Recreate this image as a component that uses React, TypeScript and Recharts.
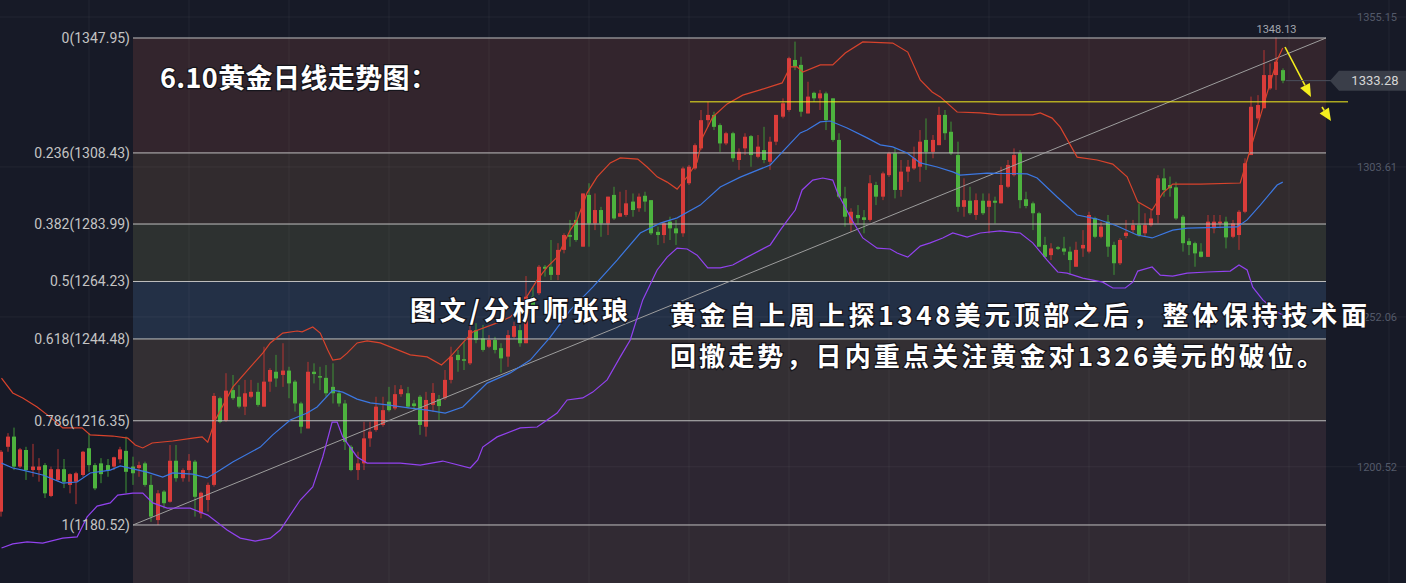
import React from 'react';
import {
  ComposedChart,
  XAxis,
  YAxis,
  Bar,
  Line,
  ReferenceArea,
  ReferenceLine,
  ReferenceDot,
} from 'recharts';

const W = 1406;
const H = 583;

// daily gold candles, oldest first (price in USD)
const opens = [
  1185.1, 1207.4, 1210.9, 1200.6, 1206.3, 1199.4, 1199.4, 1201.1, 1190.5, 1196.0,
  1199.7, 1194.3, 1195.4, 1197.7, 1206.9, 1201.1, 1201.7, 1201.1, 1200.6, 1203.1,
  1206.0, 1200.6, 1200.1, 1201.7, 1194.3, 1182.2, 1192.0, 1188.5, 1202.6, 1196.6,
  1199.4, 1202.3, 1184.5, 1189.1, 1194.3, 1224.1, 1216.4, 1226.9, 1224.6, 1221.2,
  1224.6, 1226.3, 1221.2, 1229.8, 1233.2, 1232.1, 1233.6, 1229.8, 1222.3, 1213.7,
  1233.2, 1231.7, 1231.1, 1228.0, 1225.8, 1222.3, 1207.4, 1199.4, 1201.7, 1210.3,
  1213.2, 1214.9, 1222.9, 1220.6, 1225.5, 1225.8, 1222.3, 1224.6, 1214.3, 1221.8,
  1223.8, 1224.1, 1230.4, 1239.0, 1237.5, 1236.1, 1247.5, 1244.7, 1241.8, 1244.1,
  1241.3, 1238.4, 1245.2, 1247.5, 1243.0, 1259.0, 1260.2, 1269.3, 1269.3, 1266.5,
  1275.1, 1280.2, 1285.4, 1276.2, 1294.0, 1284.2, 1288.8, 1284.2, 1294.0, 1286.5,
  1287.1, 1291.7, 1289.4, 1293.7, 1292.2, 1281.3, 1280.2, 1284.8, 1282.5, 1280.8,
  1298.0, 1303.1, 1310.0, 1319.7, 1321.5, 1318.0, 1311.7, 1315.2, 1306.0, 1310.0,
  1314.2, 1307.1, 1309.4, 1305.4, 1312.3, 1320.9, 1323.2, 1340.4, 1338.7, 1322.0,
  1329.1, 1327.2, 1328.9, 1327.2, 1312.9, 1292.8, 1284.2, 1287.1, 1286.3, 1285.4,
  1297.4, 1293.4, 1300.8, 1308.3, 1295.7, 1302.0, 1303.1, 1303.7, 1312.9, 1308.8,
  1311.1, 1321.5, 1315.7, 1307.7, 1289.9, 1292.0, 1287.1, 1292.0, 1289.9, 1292.0,
  1291.1, 1296.8, 1300.8, 1308.3, 1292.5, 1291.1, 1287.7, 1276.8, 1273.3, 1276.0,
  1275.6, 1274.5, 1269.3, 1275.6, 1274.5, 1286.0, 1279.6, 1284.8, 1276.8, 1270.5,
  1279.9, 1281.9, 1283.6, 1280.8, 1283.6, 1287.1, 1299.7, 1297.4, 1296.6, 1286.5,
  1278.1, 1277.4, 1274.5, 1272.7, 1282.5, 1284.2, 1284.8, 1279.6, 1280.2, 1288.2,
  1307.7, 1320.3, 1323.8, 1330.6, 1335.2, 1336.9,
];

const closes = [
  1205.7, 1210.9, 1200.6, 1206.5, 1199.4, 1200.6, 1200.6, 1191.4, 1199.7, 1199.7,
  1195.4, 1198.0, 1198.3, 1205.7, 1201.1, 1193.1, 1198.0, 1199.4, 1203.8, 1206.5,
  1198.8, 1198.3, 1201.1, 1194.3, 1183.4, 1191.4, 1188.0, 1202.6, 1196.6, 1199.4,
  1202.6, 1190.2, 1191.6, 1194.3, 1224.9, 1216.0, 1226.7, 1224.1, 1221.2, 1225.8,
  1226.3, 1221.8, 1229.8, 1233.8, 1230.9, 1233.6, 1229.2, 1222.3, 1214.3, 1233.2,
  1232.4, 1231.3, 1225.8, 1225.8, 1222.3, 1209.1, 1199.4, 1201.7, 1210.3, 1212.6,
  1221.2, 1220.0, 1220.0, 1225.5, 1227.2, 1221.2, 1221.4, 1214.9, 1223.5, 1225.9,
  1221.4, 1230.4, 1238.4, 1237.2, 1237.0, 1247.5, 1244.1, 1240.7, 1244.1, 1240.7,
  1237.8, 1245.8, 1248.9, 1243.0, 1259.0, 1255.6, 1269.3, 1268.6, 1266.5, 1275.1,
  1280.2, 1279.6, 1278.5, 1294.5, 1284.2, 1288.8, 1284.2, 1293.4, 1285.9, 1287.7,
  1291.1, 1288.8, 1293.4, 1291.7, 1280.8, 1280.2, 1284.2, 1282.5, 1280.8, 1303.1,
  1303.7, 1311.1, 1319.7, 1321.5, 1317.4, 1311.7, 1315.2, 1306.6, 1308.8, 1314.0,
  1307.7, 1310.6, 1306.0, 1312.3, 1321.5, 1325.5, 1341.0, 1338.1, 1322.6, 1327.8,
  1327.2, 1328.9, 1319.7, 1312.9, 1293.4, 1286.5, 1288.2, 1286.0, 1285.4, 1298.0,
  1293.4, 1301.4, 1308.3, 1295.7, 1302.0, 1303.7, 1306.6, 1312.3, 1308.8, 1312.9,
  1321.5, 1315.2, 1308.3, 1289.9, 1292.2, 1287.7, 1292.2, 1287.7, 1292.0, 1291.3,
  1297.4, 1304.3, 1307.7, 1292.2, 1290.2, 1287.7, 1276.2, 1272.7, 1275.6, 1275.5,
  1274.5, 1271.6, 1275.1, 1276.8, 1287.1, 1279.6, 1283.1, 1276.2, 1270.5, 1278.5,
  1281.0, 1283.6, 1280.2, 1283.6, 1285.9, 1299.7, 1295.7, 1296.3, 1285.9, 1277.4,
  1276.8, 1273.9, 1272.7, 1284.8, 1284.8, 1284.8, 1279.4, 1284.2, 1288.2, 1304.9,
  1324.3, 1324.9, 1335.2, 1335.2, 1339.8, 1333.28,
];

const highs = [
  1206.3, 1212.1, 1214.0, 1207.0, 1207.4, 1208.4, 1203.5, 1201.8, 1200.6, 1206.6,
  1203.2, 1198.3, 1198.8, 1206.0, 1212.0, 1201.8, 1203.5, 1203.2, 1204.0, 1207.4,
  1210.9, 1204.0, 1202.3, 1202.3, 1197.7, 1192.5, 1192.5, 1208.0, 1208.0, 1200.0,
  1204.9, 1202.9, 1192.0, 1195.1, 1225.9, 1224.6, 1232.7, 1232.1, 1228.6, 1230.4,
  1230.4, 1229.4, 1241.8, 1234.4, 1239.0, 1243.0, 1234.9, 1230.4, 1222.9, 1236.6,
  1236.1, 1234.9, 1235.5, 1236.1, 1226.9, 1223.5, 1208.0, 1205.7, 1216.0, 1216.0,
  1224.6, 1224.6, 1228.0, 1228.6, 1228.6, 1228.0, 1223.5, 1225.2, 1226.3, 1229.3,
  1225.2, 1233.8, 1241.8, 1240.7, 1243.5, 1249.9, 1249.9, 1249.3, 1245.8, 1245.2,
  1243.0, 1247.5, 1250.4, 1249.3, 1266.1, 1262.4, 1269.9, 1269.9, 1278.5, 1277.4,
  1280.8, 1285.4, 1288.2, 1294.5, 1298.0, 1294.5, 1289.9, 1293.4, 1296.8, 1295.1,
  1295.7, 1294.5, 1294.5, 1295.1, 1292.2, 1283.1, 1284.8, 1286.5, 1285.4, 1303.7,
  1304.3, 1311.7, 1323.2, 1326.0, 1322.6, 1318.6, 1315.7, 1315.7, 1310.0, 1315.2,
  1314.6, 1314.6, 1317.4, 1314.0, 1321.5, 1327.2, 1341.5, 1346.7, 1341.5, 1332.9,
  1329.5, 1330.1, 1329.5, 1327.2, 1315.2, 1296.8, 1289.4, 1290.5, 1288.8, 1300.8,
  1298.5, 1302.0, 1308.8, 1310.0, 1306.0, 1306.0, 1310.6, 1316.3, 1320.3, 1314.6,
  1324.3, 1323.2, 1319.2, 1312.3, 1299.7, 1296.8, 1294.5, 1294.5, 1294.5, 1293.4,
  1303.7, 1306.0, 1310.0, 1309.4, 1295.1, 1291.7, 1288.2, 1279.6, 1277.4, 1276.4,
  1279.6, 1276.2, 1277.9, 1281.9, 1288.2, 1286.5, 1284.8, 1287.1, 1277.9, 1279.1,
  1285.4, 1285.4, 1291.1, 1287.7, 1288.8, 1300.8, 1303.1, 1300.3, 1298.5, 1287.1,
  1279.1, 1277.9, 1277.4, 1287.1, 1287.1, 1287.1, 1286.5, 1285.4, 1288.8, 1306.6,
  1327.8, 1328.3, 1343.8, 1339.2, 1348.13, 1337.5,
];

const lows = [
  1183.4, 1205.7, 1199.4, 1200.1, 1196.0, 1197.1, 1195.4, 1189.8, 1190.1, 1195.4,
  1193.2, 1191.4, 1187.7, 1197.1, 1198.8, 1192.5, 1194.9, 1197.1, 1199.4, 1201.7,
  1191.4, 1194.3, 1197.1, 1193.7, 1181.6, 1180.5, 1186.2, 1188.2, 1195.4, 1195.4,
  1195.4, 1183.4, 1182.8, 1185.1, 1193.7, 1215.5, 1216.0, 1223.5, 1220.6, 1218.3,
  1224.1, 1221.2, 1221.2, 1226.3, 1228.0, 1228.0, 1224.1, 1219.5, 1212.0, 1213.7,
  1229.2, 1226.9, 1224.6, 1222.3, 1221.2, 1206.3, 1199.0, 1196.0, 1199.4, 1207.4,
  1212.6, 1214.3, 1219.5, 1220.0, 1224.6, 1220.6, 1220.0, 1211.5, 1210.9, 1219.4,
  1216.6, 1223.5, 1229.2, 1233.2, 1233.8, 1235.5, 1243.0, 1240.1, 1241.3, 1239.5,
  1232.9, 1234.9, 1244.7, 1241.8, 1243.0, 1255.6, 1259.6, 1265.9, 1264.7, 1264.7,
  1273.9, 1276.2, 1277.9, 1276.2, 1276.2, 1281.9, 1279.6, 1280.2, 1285.4, 1286.5,
  1286.5, 1286.5, 1288.2, 1288.2, 1280.2, 1276.8, 1277.4, 1278.5, 1276.8, 1279.6,
  1297.4, 1302.6, 1309.4, 1317.4, 1316.3, 1308.8, 1311.1, 1305.4, 1302.6, 1307.7,
  1303.7, 1306.6, 1304.9, 1302.6, 1311.1, 1320.3, 1322.6, 1336.9, 1320.9, 1322.0,
  1326.0, 1323.2, 1316.3, 1312.3, 1292.8, 1283.1, 1281.3, 1284.2, 1280.8, 1284.8,
  1290.5, 1292.2, 1300.2, 1292.8, 1293.4, 1298.5, 1302.6, 1298.5, 1302.6, 1306.6,
  1311.1, 1312.9, 1307.7, 1288.2, 1286.5, 1287.1, 1285.4, 1287.1, 1280.8, 1284.2,
  1291.1, 1296.3, 1300.3, 1289.4, 1289.4, 1281.9, 1276.2, 1272.2, 1271.6, 1275.1,
  1273.3, 1266.5, 1269.3, 1272.7, 1273.9, 1279.1, 1279.1, 1272.7, 1266.5, 1269.9,
  1279.1, 1280.8, 1279.6, 1279.6, 1283.1, 1284.2, 1293.4, 1293.4, 1285.4, 1274.5,
  1273.3, 1269.3, 1272.5, 1272.7, 1280.8, 1282.5, 1275.6, 1279.1, 1275.1, 1287.7,
  1307.7, 1319.7, 1323.8, 1330.1, 1330.1, 1332.4,
];

// bollinger bands, read as [candle index, price]
const upperBand: [number, number][] = [
  [0, 1231.0], [1.8, 1225.9], [3.4, 1224.2], [5.7, 1221.1], [7.8, 1217.6], [9.8, 1213.9],
  [12.9, 1213.9], [14.2, 1211.5], [17.8, 1211.1], [20.2, 1210.4], [21.4, 1208.0], [22.6, 1207.0],
  [24.1, 1208.7], [27.4, 1209.4], [30.6, 1210.4], [32.1, 1210.8], [33.0, 1209.0], [34.2, 1216.6],
  [37.0, 1227.9], [39.8, 1234.8], [41.8, 1239.6], [43.0, 1243.1], [45.0, 1246.5], [47.3, 1247.2],
  [48.1, 1246.9], [49.8, 1248.6], [51.0, 1246.5], [52.2, 1240.7], [53.0, 1237.2], [54.2, 1237.6],
  [55.3, 1239.6], [56.9, 1243.1], [58.5, 1243.8], [60.6, 1243.1], [62.6, 1241.4], [65.4, 1239.0],
  [68.1, 1238.3], [70.4, 1235.5], [71.8, 1238.3], [73.8, 1243.1], [75.4, 1246.9], [79.3, 1250.0],
  [81.4, 1252.0], [83.4, 1256.8], [85.7, 1264.7], [87.3, 1269.2], [88.9, 1272.6], [91.0, 1281.9],
  [92.1, 1285.4], [93.7, 1294.7], [95.3, 1300.2], [97.4, 1305.0], [99.0, 1306.7], [101.8, 1306.3],
  [103.3, 1303.6], [104.9, 1300.2], [106.5, 1298.4], [108.1, 1296.0], [109.7, 1300.2], [111.3, 1305.3],
  [112.2, 1313.9], [113.8, 1320.8], [116.1, 1325.3], [118.6, 1328.3], [121.4, 1330.1], [124.9, 1332.5],
  [126.2, 1338.0], [127.3, 1338.0], [128.2, 1336.2], [131.0, 1338.7], [133.0, 1338.7], [135.0, 1342.8],
  [137.8, 1346.6], [142.6, 1346.2], [145.0, 1343.1], [147.0, 1333.5], [148.9, 1329.4], [150.2, 1327.7],
  [152.9, 1322.5], [156.6, 1322.2], [159.8, 1321.5], [165.0, 1321.5], [166.2, 1322.2], [168.1, 1320.4],
  [169.4, 1317.3], [171.0, 1311.2], [172.1, 1307.0], [175.3, 1306.0], [177.8, 1304.6], [180.1, 1300.2],
  [181.8, 1291.6], [184.1, 1288.8], [185.8, 1294.6], [187.4, 1297.7], [191.8, 1297.7], [198.2, 1298.1],
  [199.3, 1306.0], [200.9, 1317.3], [202.5, 1329.0], [204.1, 1340.4], [205.0, 1344.5],
];

const midBand: [number, number][] = [
  [0, 1201.8], [1.8, 1200.1], [3.4, 1199.4], [6.6, 1197.7], [9.8, 1194.9], [12.1, 1195.3],
  [14.2, 1198.4], [17.4, 1199.4], [19.0, 1200.8], [21.0, 1199.8], [23.3, 1198.7], [25.8, 1197.0],
  [27.4, 1198.4], [30.6, 1198.0], [32.9, 1196.7], [35.0, 1199.4], [37.0, 1202.2], [41.4, 1207.3],
  [43.4, 1211.5], [46.2, 1216.6], [48.9, 1219.0], [50.5, 1221.1], [53.0, 1226.9], [54.6, 1226.2],
  [56.9, 1223.8], [59.0, 1222.5], [61.7, 1221.8], [65.4, 1220.7], [68.1, 1220.0], [71.0, 1219.0],
  [73.8, 1221.1], [77.7, 1229.3], [81.4, 1232.8], [84.6, 1237.2], [87.8, 1245.1], [91.0, 1254.4],
  [94.6, 1262.3], [98.5, 1271.6], [102.2, 1280.9], [105.4, 1284.3], [108.1, 1286.1], [111.8, 1290.5],
  [115.0, 1296.7], [118.2, 1300.1], [123.0, 1304.3], [125.7, 1310.5], [127.8, 1315.3], [128.9, 1316.3],
  [131.0, 1319.1], [132.6, 1319.4], [135.3, 1317.0], [138.5, 1313.6], [140.6, 1311.2], [142.6, 1310.5],
  [144.9, 1308.4], [147.0, 1305.0], [149.7, 1303.6], [152.2, 1301.9], [153.4, 1300.8], [157.7, 1301.5],
  [164.1, 1301.2], [165.7, 1299.8], [168.9, 1293.3], [172.1, 1287.1], [175.3, 1285.7], [178.5, 1283.3],
  [181.7, 1280.2], [184.1, 1279.2], [187.4, 1281.9], [189.7, 1282.6], [197.7, 1283.0], [199.3, 1285.4],
  [201.4, 1290.5], [204.1, 1297.4], [205.0, 1298.4],
];

const lowerBand: [number, number][] = [
  [0, 1172.6], [1.8, 1174.0], [4.1, 1174.7], [6.6, 1174.3], [9.8, 1176.0], [12.1, 1176.4],
  [13.7, 1183.3], [15.3, 1187.0], [17.4, 1188.1], [18.6, 1190.8], [21.0, 1191.5], [22.6, 1191.5],
  [24.2, 1188.1], [26.5, 1186.3], [30.2, 1186.3], [33.0, 1183.9], [36.1, 1178.8], [38.2, 1176.0],
  [40.6, 1175.0], [43.0, 1176.0], [44.6, 1178.8], [47.8, 1189.1], [49.8, 1193.6], [51.4, 1203.9],
  [52.9, 1215.9], [53.7, 1215.9], [54.6, 1210.8], [56.9, 1203.9], [58.5, 1201.8], [63.8, 1201.8],
  [67.0, 1201.1], [70.6, 1202.5], [75.0, 1200.1], [76.2, 1202.9], [77.0, 1207.3], [79.3, 1210.8],
  [83.0, 1213.9], [85.7, 1214.2], [87.3, 1216.6], [88.9, 1219.0], [90.5, 1223.5], [93.0, 1224.2],
  [94.6, 1226.2], [96.9, 1230.4], [99.0, 1238.3], [100.6, 1244.1], [102.6, 1257.9], [104.9, 1268.2],
  [106.5, 1272.6], [108.1, 1275.7], [109.7, 1275.4], [111.3, 1273.3], [113.0, 1268.9], [115.0, 1268.9],
  [117.0, 1269.9], [119.3, 1272.6], [123.0, 1276.8], [124.6, 1281.9], [125.8, 1285.4], [127.0, 1288.8],
  [128.1, 1295.7], [129.8, 1299.1], [131.4, 1299.8], [133.0, 1299.1], [133.8, 1294.6], [135.8, 1286.4],
  [137.8, 1279.2], [140.1, 1275.7], [142.2, 1275.4], [143.3, 1274.0], [145.0, 1272.6], [147.0, 1276.4],
  [148.6, 1277.5], [150.6, 1279.2], [152.2, 1280.9], [154.5, 1279.5], [156.6, 1280.9], [159.8, 1281.6],
  [163.0, 1280.9], [165.0, 1277.5], [167.3, 1271.6], [169.0, 1267.5], [170.5, 1267.1], [173.0, 1265.4],
  [176.2, 1264.0], [177.8, 1262.0], [179.8, 1262.0], [181.0, 1264.0], [181.8, 1267.8], [184.1, 1269.2],
  [185.4, 1266.4], [187.4, 1266.1], [189.7, 1267.1], [192.9, 1267.5], [196.6, 1267.8], [198.0, 1269.9],
  [199.3, 1268.2], [200.2, 1262.3], [201.8, 1257.9], [204.1, 1253.7], [205.0, 1252.7],
];

// fibonacci retracement tool
const fibRatios = ['0', '0.236', '0.382', '0.5', '0.618', '0.786', '1'];
const fibPrices = [1347.95, 1308.43, 1283.99, 1264.23, 1244.48, 1216.35, 1180.52];
const fibFills = ['#33252d', '#312b2e', '#2d3130', '#233046', '#332f33', '#2d2632'];
const fibFrom = 21.04;
const fibTo = 211.92;

const priceTicks = [1355.15, 1303.61, 1252.06, 1200.52];
const timeGrid = [14, 30, 46, 62, 78, 94, 110, 126, 142, 158, 174, 190, 206, 222];

const supportPrice = 1326;
const supportFrom = 110.16;
const supportTo = 215.44;
const lastPrice = 1333.28;
const topPrice = 1348.13;
const arrowBig = [{ x: 205.36, y: 1344.85 }, { x: 209.52, y: 1327.66 }];
const arrowSmall = [{ x: 211.28, y: 1324.22 }, { x: 212.72, y: 1319.41 }];

const X_DOMAIN = [-0.24, 224.72];
const Y_DOMAIN = [1160.57, 1361.01];

const candles = opens.map((o, i) => ({
  i,
  open: o,
  close: closes[i],
  high: highs[i],
  low: lows[i],
  range: [lows[i], highs[i]],
}));

const pts = (arr: [number, number][]) => arr.map(([i, v]) => ({ i, v }));

const LABEL_FONT = 'Roboto, "Noto Sans", sans-serif';
const CJK_FONT = '"Noto Sans CJK SC", "Noto Sans", sans-serif';
const YELLOW = '#f4ee1e';

function Candle(props: any) {
  const { x, y, width, height, payload } = props;
  if (!payload || x == null || y == null) return null;
  const { open, close, high, low } = payload;
  const top = Math.min(y, y + height);
  const h = Math.abs(height);
  const k = high > low ? h / (high - low) : 0;
  const py = (v: number) => top + (high - v) * k;
  const up = close >= open;
  const left = Math.round(x + width / 2 - 2);
  const bTop = py(Math.max(open, close));
  const bBot = py(Math.min(open, close));
  return (
    <g>
      <rect x={left + 1.5} y={top} width={1} height={h} fill={up ? '#b53533' : '#3f9436'} />
      <rect
        x={left}
        y={bTop}
        width={4}
        height={Math.max(1.5, bBot - bTop)}
        fill={up ? '#d93c3a' : '#4db33e'}
      />
    </g>
  );
}

function Arrow(p: any) {
  const { x1, y1, x2, y2 } = p;
  const dx = x2 - x1;
  const dy = y2 - y1;
  const len = Math.hypot(dx, dy) || 1;
  const ux = dx / len;
  const uy = dy / len;
  const hl = Math.min(13, len * 0.75);
  const hw = 5.5;
  const bx = x2 - ux * hl;
  const by = y2 - uy * hl;
  const head = `${x2},${y2} ${bx - uy * hw},${by + ux * hw} ${bx + uy * hw},${by - ux * hw}`;
  return (
    <g>
      <line x1={x1} y1={y1} x2={bx} y2={by} stroke={YELLOW} strokeWidth={1.6} />
      <polygon points={head} fill={YELLOW} />
    </g>
  );
}

function PriceTag(p: any) {
  const { cx, cy } = p;
  return (
    <g>
      <line x1={cx + 3} y1={cy} x2={1331} y2={cy} stroke="#4b505c" strokeWidth={1} />
      <polygon
        points={`1330,${cy} 1339,${cy - 10} ${W},${cy - 10} ${W},${cy + 10} 1339,${cy + 10}`}
        fill="#3a3e49"
      />
      <text
        x={1375}
        y={cy}
        textAnchor="middle"
        dominantBaseline="central"
        fill="#d6d6d6"
        fontSize={13}
        fontFamily={LABEL_FONT}
      >
        {lastPrice.toFixed(2)}
      </text>
    </g>
  );
}

export default function App() {
  return (
    <div
      style={{
        position: 'absolute',
        left: 0,
        top: 0,
        width: W,
        height: H,
        background: '#171a27',
        overflow: 'hidden',
      }}
    >
      <ComposedChart width={W} height={H} data={candles} margin={{ top: 0, right: 0, bottom: 0, left: 0 }}>
        <XAxis dataKey="i" type="number" domain={X_DOMAIN} allowDataOverflow hide />
        <YAxis type="number" domain={Y_DOMAIN} allowDataOverflow hide />

        {/* fib zones */}
        {fibFills.map((fill, k) => (
          <ReferenceArea
            key={`z${k}`}
            x1={fibFrom}
            x2={fibTo}
            y1={fibPrices[k + 1]}
            y2={fibPrices[k]}
            fill={fill}
            fillOpacity={1}
            stroke="none"
          />
        ))}
        <ReferenceArea x1={fibFrom} x2={fibTo} y1={Y_DOMAIN[0]} y2={fibPrices[6]} fill="#312a33" fillOpacity={1} stroke="none" />

        {/* grid */}
        {timeGrid.map((g) => (
          <ReferenceLine key={`gx${g}`} x={g} stroke="rgba(255,255,255,0.05)" strokeWidth={1} />
        ))}
        {priceTicks.map((t) => (
          <ReferenceLine
            key={`gy${t}`}
            y={t}
            stroke="rgba(255,255,255,0.05)"
            strokeWidth={1}
            label={{
              value: t.toFixed(2),
              position: 'insideRight',
              offset: 9,
              fill: '#535969',
              fontSize: 11,
              fontFamily: LABEL_FONT,
            }}
          />
        ))}

        {/* fib levels */}
        {fibPrices.map((p) => (
          <ReferenceLine
            key={`f${p}`}
            segment={[{ x: fibFrom, y: p }, { x: fibTo, y: p }]}
            stroke="#bfbfbf"
            strokeWidth={1}
          />
        ))}
        {fibPrices.map((p, k) => (
          <ReferenceDot
            key={`fl${p}`}
            x={fibFrom}
            y={p}
            r={0}
            shape={(d: any) => (
              <text
                x={d.cx - 3}
                y={d.cy}
                textAnchor="end"
                dominantBaseline="central"
                fill="#c4c4c4"
                fontSize={14}
                fontFamily={LABEL_FONT}
              >
                {`${fibRatios[k]}(${p.toFixed(2)})`}
              </text>
            )}
          />
        ))}
        <ReferenceLine
          segment={[{ x: fibFrom, y: fibPrices[6] }, { x: fibTo, y: fibPrices[0] }]}
          stroke="#9d9d9d"
          strokeWidth={1}
        />

        <Bar dataKey="range" barSize={4} shape={Candle} isAnimationActive={false} />

        <Line data={pts(upperBand)} dataKey="v" type="linear" stroke="#d8432c" strokeWidth={1.2} dot={false} activeDot={false} isAnimationActive={false} />
        <Line data={pts(midBand)} dataKey="v" type="linear" stroke="#3c78e2" strokeWidth={1.2} dot={false} activeDot={false} isAnimationActive={false} />
        <Line data={pts(lowerBand)} dataKey="v" type="linear" stroke="#9242ef" strokeWidth={1.2} dot={false} activeDot={false} isAnimationActive={false} />

        <ReferenceLine
          segment={[{ x: supportFrom, y: supportPrice }, { x: supportTo, y: supportPrice }]}
          stroke={YELLOW}
          strokeWidth={1}
        />
        <ReferenceLine segment={arrowBig} shape={Arrow} />
        <ReferenceLine segment={arrowSmall} shape={Arrow} />

        <ReferenceDot
          x={204}
          y={topPrice}
          r={0}
          shape={(d: any) => (
            <text x={d.cx} y={d.cy - 4} textAnchor="middle" fill="#a3a6ae" fontSize={11} fontFamily={LABEL_FONT}>
              {topPrice.toFixed(2)}
            </text>
          )}
        />
        <ReferenceDot x={205} y={lastPrice} r={0} shape={PriceTag} />
      </ComposedChart>

      <svg
        width={W}
        height={H}
        style={{ position: 'absolute', left: 0, top: 0, pointerEvents: 'none' }}
      >
        <g
          fill="#ffffff"
          stroke="#15151c"
          strokeWidth={2.5}
          paintOrder="stroke"
          fontFamily={CJK_FONT}
          fontWeight={700}
        >
          <text x={160} y={88} fontSize={27} textLength={277} lengthAdjust="spacing">
            6.10黄金日线走势图：
          </text>
          <text x={410} y={320} fontSize={26} textLength={218} lengthAdjust="spacing">
            图文/分析师张琅
          </text>
          <text x={670} y={325} fontSize={26} textLength={697} lengthAdjust="spacing">
            黄金自上周上探1348美元顶部之后，整体保持技术面
          </text>
          <text x={670} y={366} fontSize={26} textLength={653} lengthAdjust="spacing">
            回撤走势，日内重点关注黄金对1326美元的破位。
          </text>
        </g>
      </svg>
    </div>
  );
}
